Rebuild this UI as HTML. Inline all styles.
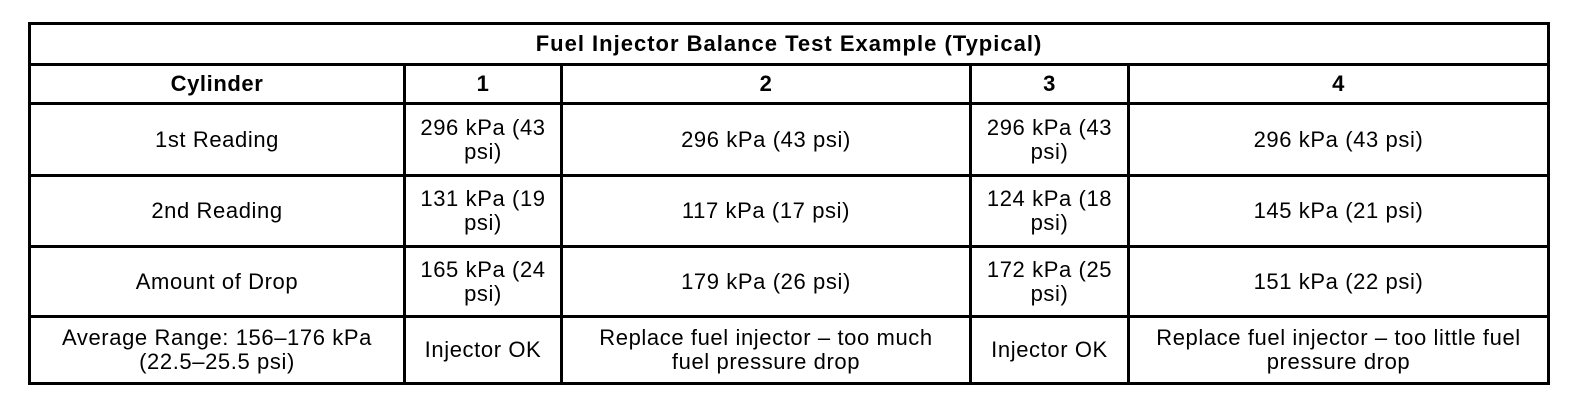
<!DOCTYPE html>
<html><head><meta charset="utf-8"><style>
body{margin:0;background:#fff;width:1584px;height:408px;position:relative;overflow:hidden;font-family:"Liberation Sans",Arial,sans-serif;color:#000}
.h{position:absolute;height:3px;background:#000;left:28px;width:1522px}
.v{position:absolute;width:3px;background:#000}
.c{position:absolute;display:flex;align-items:center;justify-content:center;text-align:center;font-size:22px;line-height:24px;letter-spacing:0.6px}
.b{font-weight:bold}
</style></head><body>
<div class="h" style="top:22px"></div>
<div class="h" style="top:63px"></div>
<div class="h" style="top:102px"></div>
<div class="h" style="top:174px"></div>
<div class="h" style="top:245px"></div>
<div class="h" style="top:315px"></div>
<div class="h" style="top:382px"></div>
<div class="v" style="left:28px;top:22px;height:363px"></div>
<div class="v" style="left:1547px;top:22px;height:363px"></div>
<div class="v" style="left:403px;top:63px;height:322px"></div>
<div class="v" style="left:560px;top:63px;height:322px"></div>
<div class="v" style="left:969px;top:63px;height:322px"></div>
<div class="v" style="left:1127px;top:63px;height:322px"></div>

<div class="c b" style="left:31px;width:1516px;top:25px;height:38px;letter-spacing:1px">Fuel Injector Balance Test Example (Typical)</div>

<div class="c b" style="left:31px;width:372px;top:66px;height:36px">Cylinder</div>
<div class="c b" style="left:406px;width:154px;top:66px;height:36px">1</div>
<div class="c b" style="left:563px;width:406px;top:66px;height:36px">2</div>
<div class="c b" style="left:972px;width:155px;top:66px;height:36px">3</div>
<div class="c b" style="left:1130px;width:417px;top:66px;height:36px">4</div>

<div class="c" style="left:31px;width:372px;top:105px;height:69px">1st Reading</div>
<div class="c" style="left:406px;width:154px;top:105px;height:69px">296 kPa (43<br>psi)</div>
<div class="c" style="left:563px;width:406px;top:105px;height:69px">296 kPa (43 psi)</div>
<div class="c" style="left:972px;width:155px;top:105px;height:69px">296 kPa (43<br>psi)</div>
<div class="c" style="left:1130px;width:417px;top:105px;height:69px">296 kPa (43 psi)</div>

<div class="c" style="left:31px;width:372px;top:177px;height:68px">2nd Reading</div>
<div class="c" style="left:406px;width:154px;top:177px;height:68px">131 kPa (19<br>psi)</div>
<div class="c" style="left:563px;width:406px;top:177px;height:68px">117 kPa (17 psi)</div>
<div class="c" style="left:972px;width:155px;top:177px;height:68px">124 kPa (18<br>psi)</div>
<div class="c" style="left:1130px;width:417px;top:177px;height:68px">145 kPa (21 psi)</div>

<div class="c" style="left:31px;width:372px;top:248px;height:67px">Amount of Drop</div>
<div class="c" style="left:406px;width:154px;top:248px;height:67px">165 kPa (24<br>psi)</div>
<div class="c" style="left:563px;width:406px;top:248px;height:67px">179 kPa (26 psi)</div>
<div class="c" style="left:972px;width:155px;top:248px;height:67px">172 kPa (25<br>psi)</div>
<div class="c" style="left:1130px;width:417px;top:248px;height:67px">151 kPa (22 psi)</div>

<div class="c" style="left:31px;width:372px;top:318px;height:64px;white-space:nowrap">Average Range: 156–176 kPa<br>(22.5–25.5 psi)</div>
<div class="c" style="left:406px;width:154px;top:318px;height:64px;white-space:nowrap">Injector OK</div>
<div class="c" style="left:563px;width:406px;top:318px;height:64px;white-space:nowrap">Replace fuel injector – too much<br>fuel pressure drop</div>
<div class="c" style="left:972px;width:155px;top:318px;height:64px;white-space:nowrap">Injector OK</div>
<div class="c" style="left:1130px;width:417px;top:318px;height:64px;white-space:nowrap">Replace fuel injector – too little fuel<br>pressure drop</div>
</body></html>
